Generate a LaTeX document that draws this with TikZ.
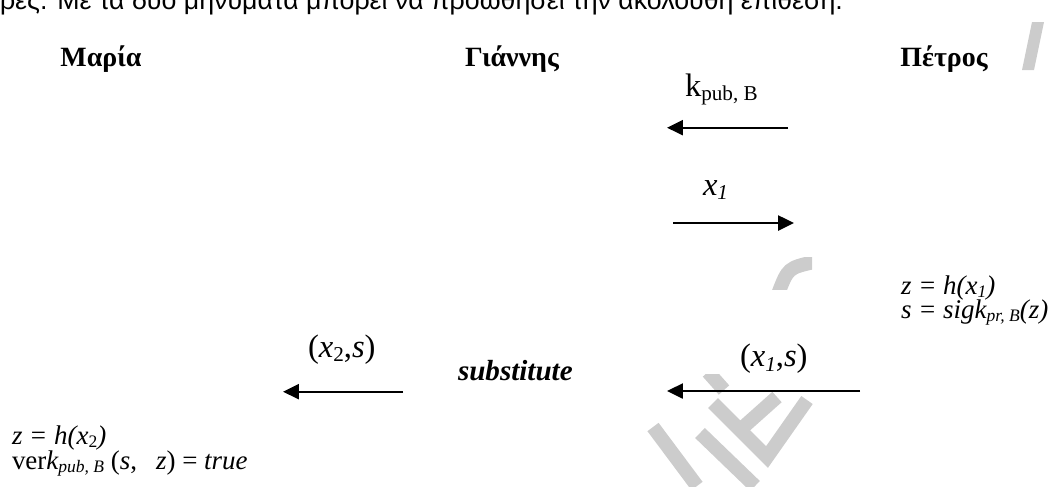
\documentclass[tikz,border=0pt]{standalone}
\usepackage{fontspec}
\setmainfont{Liberation Serif}
\newfontfamily\arialfont{Liberation Sans}
\usetikzlibrary{arrows.meta}
\newcommand\lsub[1]{\raisebox{-0.3ex}{\scalebox{0.65}{#1}}}
\begin{document}
\begin{tikzpicture}[x=0.43pt,y=-0.43pt,
  every node/.style={inner sep=0pt, outer sep=0pt},
  hdr/.style={font=\fontsize{12}{14}\selectfont\bfseries, anchor=base},
  lbl/.style={font=\fontsize{14}{16}\selectfont, anchor=base west},
  eq/.style={font=\fontsize{11.6}{14}\selectfont, anchor=base west},
  msg/.style={line width=1pt, -{Triangle[length=6.8pt,width=6.4pt]}},
  wm/.style={draw=black!20, line width=6pt}]
\useasboundingbox (0,0) rectangle (1052,486);
\clip (0,0) rectangle (1052,486);
% watermark fragments
\begin{scope}
  \clip (770,257) rectangle (812,289);
  \draw[wm] (778,294) .. controls (788,268) .. (814,262);
\end{scope}
\fill[black!20] (1022,70) -- (1034,70) -- (1044,22) -- (1032,22) -- cycle;
\begin{scope}
  \clip (630,374) rectangle (830,486);
  \draw[wm] (713,403) -- (767,457) -- (807,400);
  \draw[wm] (740,430) -- (777,397);
  \draw[wm] (708,372) -- (724,390);
  \draw[wm] (700,433) -- (755,486);
  \draw[wm] (653,427) -- (697,486);
\end{scope}
% top cut text line
\node[font=\arialfont\fontsize{11.5}{13}\selectfont, anchor=base west] (top) at (0,9) {ρες. Με τα δύο μηνύματα μπορεί να προωθήσει την ακόλουθη επίθεση.};
% headers
\node[hdr] (maria) at (101,66) {Μαρία};
\node[hdr] (giannis) at (512,66) {Γιάννης};
\node[hdr] (petros) at (944,66) {Πέτρος};
% message labels
\node[lbl] (kpub) at (685,96) {k\lsub{pub, B}};
\node[lbl] (x1) at (703,195) {\textit{x\lsub{1}}};
\node[eq] (z1) at (901,294) {\itshape z = h(x\lsub{1})};
\node[eq] (s1) at (901,318) {\itshape s = sigk\lsub{pr, B}(z)};
\node[lbl] (x2s) at (308,357) {(\textit{x}\lsub{2},\textit{s})};
\node[font=\fontsize{12.5}{14}\selectfont\bfseries\itshape, anchor=base west] (subst) at (458,380) {substitute};
\node[lbl] (x1s) at (740,366.5) {(\textit{x\lsub{1}},\textit{s})};
\node[eq] (z2) at (12,444) {\itshape z = h(x\lsub{\upshape 2})};
\node[eq] (ver) at (12,469) {ver\textit{k\lsub{pub, B}} (\textit{s},\hspace{0.7em}\textit{z}) = \textit{true}};
% arrows
\coordinate (a1s) at (788,127.7); \coordinate (a1e) at (667,127.7);
\coordinate (a2s) at (673,223);   \coordinate (a2e) at (794,223);
\coordinate (a3s) at (403,391.7); \coordinate (a3e) at (283,391.7);
\coordinate (a4s) at (860,391);   \coordinate (a4e) at (667,391);
\draw[msg] (a1s) -- (a1e);
\draw[msg] (a2s) -- (a2e);
\draw[msg] (a3s) -- (a3e);
\draw[msg] (a4s) -- (a4e);
\end{tikzpicture}
\end{document}
